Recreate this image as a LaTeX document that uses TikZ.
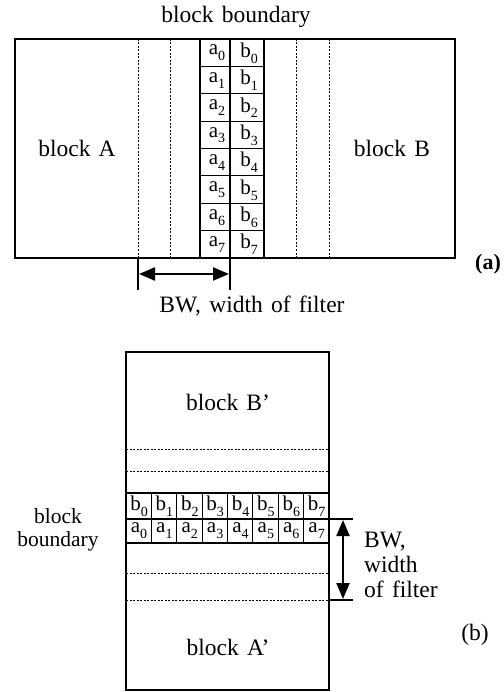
\documentclass[tikz,border=0pt]{standalone}
\usepackage{fontspec}
\setmainfont{Liberation Serif}
\usetikzlibrary{arrows.meta}
\newcommand{\sbs}[1]{\raisebox{-0.28em}{\fontsize{14}{14}\selectfont #1}}
\begin{document}
\begin{tikzpicture}[x=1pt,y=-1pt,
  lbl/.style={font=\fontsize{23.5}{25}\selectfont, inner sep=0pt},
  cell/.style={font=\fontsize{21}{22}\selectfont, inner sep=0pt},
  edge/.style={line width=1.2pt},
  dsh/.style={line width=0.9pt, dash pattern=on 2pt off 1.5pt},
  bnd/.style={line width=2.2pt},
  dimarrow/.style={line width=2.2pt, {Triangle[length=16pt,width=13pt]}-{Triangle[length=16pt,width=13pt]}}]
\useasboundingbox (0,0) rectangle (503,692);
% ---------------- (a) ----------------
\node[lbl] (titleA) at (236,17) {block\hspace{0.35em}boundary};
\draw[edge] (15,39) rectangle (455,258);
\foreach \x in {138,170,296,329} \draw[dsh] (\x,39) -- (\x,258);
\draw[edge] (200,39) rectangle (264,258);
\foreach \i in {1,...,7} \draw[edge] (200,39+27.375*\i) -- (264,39+27.375*\i);
\foreach \i in {0,...,7} {
  \node[cell] (a\i) at (217,39+27.375*\i+14) {a\sbs{\i}};
  \node[cell] (b\i) at (249,39+27.375*\i+14) {b\sbs{\i}};
}
\draw[bnd] (230,39) -- (230,258);
\node[lbl] (blkA) at (77,148) {block\hspace{0.35em}A};
\node[lbl] (blkB) at (392,148) {block\hspace{0.35em}B};
\node[font=\fontsize{22}{24}\selectfont\bfseries, inner sep=0pt] (labA) at (488,264) {(a)};
\coordinate (tl) at (138,290);
\coordinate (tr) at (230,290);
\coordinate (tl0) at (138,258);
\coordinate (tr0) at (230,258);
\draw[edge] (tl0) -- (tl);
\draw[edge] (tr0) -- (tr);
\coordinate (al) at (139,274);
\coordinate (ar) at (229,274);
\draw[dimarrow] (al) -- (ar);
\node[lbl] (bwA) at (252,306) {BW,\hspace{0.35em}width\hspace{0.35em}of\hspace{0.35em}filter};
% ---------------- (b) ----------------
\draw[edge] (126,352) rectangle (329,690);
\foreach \y in {449,471,573,600} \draw[dsh] (126,\y) -- (329,\y);
\draw[edge] (126,493) rectangle (329,543);
\foreach \i in {1,...,7} \draw[edge] (126+25.375*\i,493) -- (126+25.375*\i,543);
\foreach \i in {0,...,7} {
  \node[cell] (bb\i) at (126+25.375*\i+13,506) {b\sbs{\i}};
  \node[cell] (aa\i) at (126+25.375*\i+13,531) {a\sbs{\i}};
}
\draw[bnd] (126,519) -- (329,519);
\coordinate (e1a) at (329,519);
\coordinate (e1b) at (353,519);
\coordinate (e2a) at (329,600);
\coordinate (e2b) at (353,600);
\draw[edge] (e1a) -- (e1b);
\draw[edge] (e2a) -- (e2b);
\coordinate (at) at (343,520);
\coordinate (ab) at (343,599);
\draw[dimarrow] (at) -- (ab);
\node[lbl] (blkBp) at (228,402) {block\hspace{0.35em}B'};
\node[lbl] (blkAp) at (228,647) {block\hspace{0.35em}A'};
\node[lbl, font=\fontsize{21.5}{23}\selectfont, align=center] (bbnd) at (58,530) {block\\boundary};
\node[lbl, align=left, anchor=west] (bwB) at (364,565) {BW,\\width\\of\hspace{0.35em}filter};
\node[lbl] (labB) at (475,635) {(b)};
\end{tikzpicture}
\end{document}
